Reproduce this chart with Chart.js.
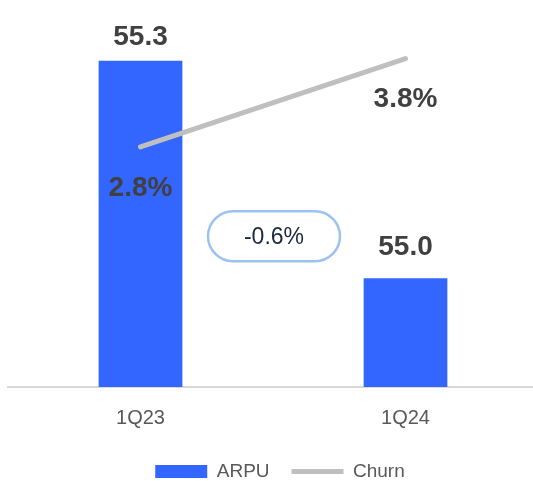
<!DOCTYPE html>
<html>
<head>
<meta charset="utf-8">
<script src="https://cdn.jsdelivr.net/npm/chart.js"></script>
<style>
  html, body { margin: 0; padding: 0; background: #fff; overflow: hidden; }
  #wrap { width: 538px; height: 481px; }
</style>
</head>
<body>
<div id="wrap"><canvas id="kpiChart"></canvas></div>
<script>
const quarters = ['1Q23', '1Q24'];
const arpuValues = [55.3, 55.0];
const churnValues = [2.8, 3.8];
const arpuLabels = ['55.3', '55.0'];
const churnLabels = ['2.8%', '3.8%'];
const changeLabel = '-0.6%';

// draws value labels above bars / below the churn points, plus the change pill
const valueLabels = {
    id: 'valueLabels',
    afterLayout(chart) {
        // nudge the legend a bit to the right like in the original slide
        if (chart.legend) {
            chart.legend.left += 7;
            chart.legend.right += 7;
        }
    },
    afterDatasetsDraw(chart) {
        const ctx = chart.ctx;
        ctx.save();
        ctx.textAlign = 'center';
        ctx.textBaseline = 'middle';
        ctx.fillStyle = '#404040';
        ctx.font = 'bold 28px "Liberation Sans", Arial, sans-serif';

        const barMeta = chart.getDatasetMeta(0);
        const barGap = [23, 31];
        barMeta.data.forEach((bar, i) => {
            ctx.fillText(arpuLabels[i], bar.x, bar.y - barGap[i]);
        });

        const lineMeta = chart.getDatasetMeta(1);
        lineMeta.data.forEach((pt, i) => {
            ctx.fillText(churnLabels[i], pt.x, pt.y + 41);
        });

        // change pill between the two quarters
        const area = chart.chartArea;
        const cx = (barMeta.data[0].x + barMeta.data[1].x) / 2 + 1;
        const cy = area.top + (area.bottom - area.top) * 0.6;
        const w = 132, h = 50;
        ctx.beginPath();
        ctx.roundRect(cx - w / 2, cy - h / 2, w, h, h / 2);
        ctx.lineWidth = 2.5;
        ctx.strokeStyle = '#9cc2f2';
        ctx.fillStyle = '#ffffff';
        ctx.fill();
        ctx.stroke();
        ctx.fillStyle = '#1c2741';
        ctx.font = '23px "Liberation Sans", Arial, sans-serif';
        ctx.fillText(changeLabel, cx, cy + 1);
        ctx.restore();
    }
};

const chart = new Chart(document.getElementById('kpiChart'), {
    type: 'bar',
    data: {
        labels: quarters,
        datasets: [{
            label: 'ARPU',
            data: arpuValues,
            backgroundColor: '#3366ff',
            borderWidth: 0,
            pointStyle: 'rect',
            yAxisID: 'y',
            categoryPercentage: 0.316,
            barPercentage: 1,
            order: 1
        }, {
            type: 'line',
            label: 'Churn',
            data: churnValues,
            borderColor: '#bfbfbf',
            backgroundColor: '#bfbfbf',
            borderWidth: 5,
            borderCapStyle: 'round',
            pointRadius: 0,
            pointStyle: 'line',
            yAxisID: 'y1',
            order: 0
        }]
    },
    options: {
        responsive: true,
        maintainAspectRatio: false,
        animation: false,
        layout: { padding: { left: 8, right: 0, top: 10, bottom: -10 } },
        plugins: {
            tooltip: { enabled: false },
            legend: {
                position: 'bottom',
                labels: {
                    usePointStyle: true,
                    pointStyleWidth: 52,
                    boxHeight: 13,
                    padding: 22,
                    color: '#595959',
                    font: { family: '"Liberation Sans", Arial, sans-serif', size: 19 },
                    sort: (a, b) => a.datasetIndex - b.datasetIndex
                }
            }
        },
        scales: {
            x: {
                grid: { display: false, drawTicks: false },
                border: { display: true, color: '#d9d9d9', width: 2 },
                ticks: {
                    padding: 19,
                    color: '#595959',
                    font: { family: '"Liberation Sans", Arial, sans-serif', size: 20 }
                },
                afterFit(scale) { scale.height -= 9; }
            },
            y: { display: false, min: 54.85, max: 55.37 },
            y1: { display: false, min: 0.08, max: 4.35 }
        }
    },
    plugins: [valueLabels]
});
</script>
</body>
</html>
